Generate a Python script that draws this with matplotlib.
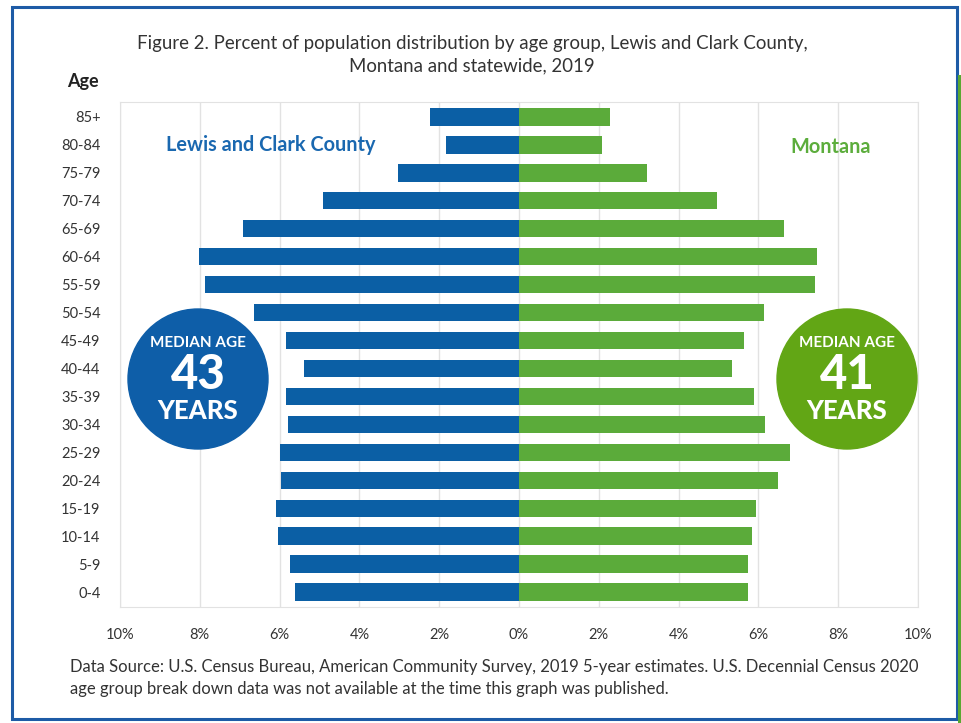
import matplotlib.pyplot as plt
import numpy as np
from matplotlib.patches import Ellipse, Rectangle

# data (percent of population)
ages = ['0-4', '5-9', '10-14', '15-19', '20-24', '25-29', '30-34', '35-39', '40-44',
        '45-49', '50-54', '55-59', '60-64', '65-69', '70-74', '75-79', '80-84', '85+']
county = [5.61, 5.75, 6.05, 6.08, 5.97, 6.0, 5.80, 5.85, 5.38,
          5.85, 6.63, 7.87, 8.02, 6.91, 4.92, 3.04, 1.84, 2.24]
montana = [5.73, 5.73, 5.85, 5.93, 6.48, 6.78, 6.17, 5.9, 5.35,
           5.64, 6.14, 7.43, 7.48, 6.63, 4.96, 3.22, 2.08, 2.27]
xticks = [-10, -8, -6, -4, -2, 0, 2, 4, 6, 8, 10]
xtick_labels = ['10%', '8%', '6%', '4%', '2%', '0%', '2%', '4%', '6%', '8%', '10%']

plt.rcParams['font.family'] = ['Lato', 'DejaVu Sans']

W, H = 962, 723
blue = '#0b5fa5'
green = '#5bab3a'
txt = '#333333'

fig = plt.figure(figsize=(W / 100, H / 100), dpi=100)
ax = fig.add_axes([120 / W, 1 - 607 / H, 798 / W, 505 / H])

y = np.arange(len(ages))
ax.barh(y, -np.array(county), height=0.64, color=blue, zorder=3)
ax.barh(y, montana, height=0.64, color=green, zorder=3)

ax.set_xlim(-10, 10)
ax.set_ylim(-0.52, 17.52)
ax.set_xticks(xticks)
ax.set_xticklabels(xtick_labels)
ax.set_yticks(y)
ax.set_yticklabels(ages)
ax.tick_params(length=0, labelsize=10.5, colors=txt)
ax.tick_params(axis='x', pad=15)
ax.tick_params(axis='y', pad=14)
ax.grid(axis='x', color='#e2e2e2', lw=1, zorder=0)
for s in ax.spines.values():
    s.set_color('#e2e2e2')

ax.text(-8.85, 16.0, 'Lewis and Clark County', color='#1a68b0', fontsize=14.3,
        fontweight='bold', va='center', ha='left')
ax.text(7.8, 15.9, 'Montana', color='#5cad3c', fontsize=14.3,
        fontweight='bold', va='center', ha='center')

# title and labels
fig.text(472 / W, 1 - 43 / H, 'Figure 2. Percent of population distribution by age group, Lewis and Clark County,',
         ha='center', va='center', fontsize=13.4, color=txt)
fig.text(472 / W, 1 - 66 / H, 'Montana and statewide, 2019',
         ha='center', va='center', fontsize=13.4, color=txt)
fig.text(83 / W, 1 - 81 / H, 'Age', ha='center', va='center', fontsize=13,
         fontweight='bold', color='#222222')

# footer
fig.text(70 / W, 1 - 667 / H,
         'Data Source: U.S. Census Bureau, American Community Survey, 2019 5-year estimates. U.S. Decennial Census 2020',
         ha='left', va='center', fontsize=12, color=txt)
fig.text(70 / W, 1 - 689 / H,
         'age group break down data was not available at the time this graph was published.',
         ha='left', va='center', fontsize=12, color=txt)

# median age badges
badges = [(198, 379, '#0e5ea8', '43'), (847, 379, '#62a615', '41')]
for cx, cy, col, num in badges:
    fig.add_artist(Ellipse((cx / W, 1 - cy / H), 140 / W, 140 / H,
                           transform=fig.transFigure, color=col, zorder=5))
    fig.text(cx / W, 1 - 343 / H, 'MEDIAN AGE', ha='center', va='center', color='white',
             fontsize=11, fontweight='bold', zorder=6)
    fig.text(cx / W, 1 - 375 / H, num, ha='center', va='center', color='white',
             fontsize=34, fontweight='black', zorder=6)
    fig.text(cx / W, 1 - 411 / H, 'YEARS', ha='center', va='center', color='white',
             fontsize=18.5, fontweight='black', zorder=6)

# outer frame
fig.add_artist(Rectangle((12 / W, 1 - 719 / H), 945 / W, 712 / H, transform=fig.transFigure,
                         fill=False, edgecolor='#1d5ba6', lw=2.2, zorder=1))
fig.add_artist(Rectangle((958 / W, 0), 4 / W, 1 - 75 / H, transform=fig.transFigure,
                         color='#5aa832', lw=0, zorder=1))

fig.savefig('out.png', dpi=100)
